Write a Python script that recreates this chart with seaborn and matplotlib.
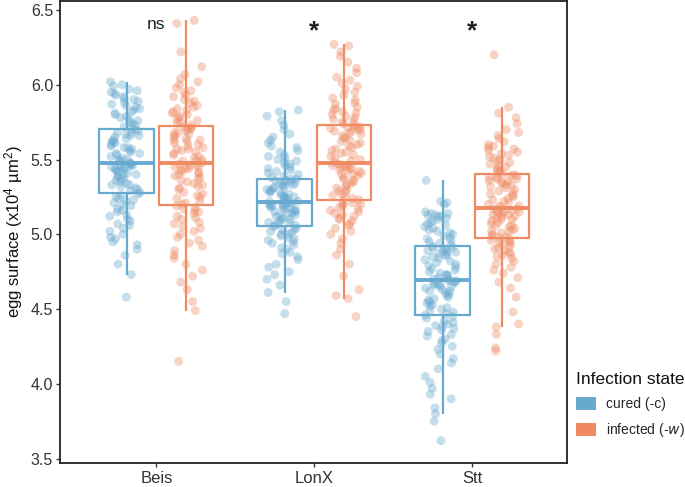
import numpy as np
import pandas as pd
import seaborn as sns
import matplotlib.pyplot as plt
from matplotlib.patches import Patch

# egg surface values (x10^4 um^2)
beis_cured = [4.58, 4.73, 4.80, 4.86, 4.90, 4.93, 4.95, 4.97, 4.98, 5.00, 5.02, 5.04, 5.06, 5.07, 5.09,
              5.10, 5.12, 5.13, 5.15, 5.16, 5.17, 5.19, 5.20, 5.21, 5.22, 5.23, 5.24, 5.25, 5.26, 5.27,
              5.28, 5.29, 5.30, 5.31, 5.32, 5.33, 5.33, 5.34, 5.35, 5.36, 5.37, 5.37, 5.38, 5.39, 5.40,
              5.40, 5.41, 5.42, 5.42, 5.43, 5.43, 5.44, 5.44, 5.45, 5.45, 5.46, 5.46, 5.46, 5.47, 5.47,
              5.48, 5.48, 5.49, 5.50, 5.50, 5.51, 5.52, 5.53, 5.54, 5.54, 5.55, 5.56, 5.57, 5.58, 5.58,
              5.59, 5.60, 5.61, 5.62, 5.62, 5.63, 5.64, 5.65, 5.66, 5.66, 5.67, 5.68, 5.68, 5.69, 5.70,
              5.71, 5.72, 5.73, 5.74, 5.75, 5.76, 5.77, 5.78, 5.79, 5.80, 5.81, 5.82, 5.83, 5.84, 5.85,
              5.86, 5.87, 5.88, 5.89, 5.90, 5.91, 5.92, 5.93, 5.94, 5.95, 5.96, 5.97, 5.99, 6.00, 6.02]
beis_infected = [4.15, 4.49, 4.55, 4.63, 4.68, 4.72, 4.76, 4.80, 4.84, 4.86, 4.89, 4.92, 4.94, 4.96, 4.98,
                 5.00, 5.02, 5.04, 5.05, 5.07, 5.08, 5.10, 5.11, 5.12, 5.14, 5.15, 5.16, 5.17, 5.18, 5.19,
                 5.20, 5.21, 5.22, 5.24, 5.25, 5.26, 5.27, 5.28, 5.30, 5.31, 5.32, 5.33, 5.34, 5.35, 5.36,
                 5.37, 5.38, 5.39, 5.40, 5.41, 5.41, 5.42, 5.43, 5.44, 5.44, 5.45, 5.45, 5.46, 5.46, 5.47,
                 5.48, 5.49, 5.49, 5.50, 5.51, 5.52, 5.53, 5.54, 5.55, 5.56, 5.57, 5.57, 5.58, 5.59, 5.60,
                 5.61, 5.62, 5.63, 5.63, 5.64, 5.65, 5.66, 5.67, 5.68, 5.68, 5.69, 5.70, 5.71, 5.71, 5.72,
                 5.73, 5.74, 5.75, 5.76, 5.77, 5.78, 5.79, 5.80, 5.81, 5.82, 5.83, 5.84, 5.85, 5.86, 5.88,
                 5.89, 5.90, 5.92, 5.93, 5.95, 5.96, 5.98, 6.00, 6.02, 6.04, 6.07, 6.12, 6.22, 6.41, 6.43]
lonx_cured = [4.47, 4.55, 4.61, 4.66, 4.70, 4.73, 4.75, 4.78, 4.80, 4.83, 4.85, 4.87, 4.88, 4.90, 4.91,
              4.93, 4.94, 4.95, 4.96, 4.97, 4.98, 4.99, 5.00, 5.00, 5.01, 5.02, 5.03, 5.03, 5.04, 5.05,
              5.06, 5.06, 5.07, 5.08, 5.08, 5.09, 5.10, 5.10, 5.11, 5.12, 5.12, 5.13, 5.14, 5.14, 5.15,
              5.15, 5.16, 5.16, 5.17, 5.17, 5.18, 5.18, 5.19, 5.19, 5.19, 5.20, 5.20, 5.20, 5.21, 5.21,
              5.22, 5.22, 5.23, 5.23, 5.24, 5.24, 5.25, 5.25, 5.26, 5.26, 5.27, 5.28, 5.28, 5.29, 5.29,
              5.30, 5.31, 5.31, 5.32, 5.32, 5.33, 5.33, 5.34, 5.34, 5.35, 5.35, 5.36, 5.36, 5.37, 5.37,
              5.38, 5.39, 5.40, 5.41, 5.42, 5.43, 5.44, 5.45, 5.46, 5.47, 5.48, 5.49, 5.50, 5.51, 5.52,
              5.53, 5.55, 5.56, 5.58, 5.59, 5.61, 5.63, 5.65, 5.67, 5.70, 5.73, 5.76, 5.79, 5.82, 5.83]
lonx_infected = [4.45, 4.57, 4.59, 4.63, 4.72, 4.80, 4.86, 4.90, 4.94, 4.97, 5.00, 5.02, 5.04, 5.06, 5.07,
                 5.09, 5.10, 5.11, 5.12, 5.13, 5.14, 5.15, 5.16, 5.17, 5.18, 5.19, 5.20, 5.20, 5.21, 5.22,
                 5.23, 5.24, 5.25, 5.26, 5.27, 5.28, 5.29, 5.30, 5.31, 5.32, 5.33, 5.34, 5.35, 5.36, 5.37,
                 5.38, 5.39, 5.40, 5.40, 5.41, 5.42, 5.43, 5.43, 5.44, 5.44, 5.45, 5.45, 5.46, 5.46, 5.47,
                 5.48, 5.49, 5.50, 5.51, 5.52, 5.53, 5.54, 5.55, 5.56, 5.57, 5.58, 5.59, 5.60, 5.61, 5.62,
                 5.63, 5.64, 5.65, 5.66, 5.67, 5.68, 5.69, 5.69, 5.70, 5.70, 5.71, 5.71, 5.72, 5.72, 5.73,
                 5.74, 5.75, 5.76, 5.77, 5.78, 5.79, 5.80, 5.81, 5.82, 5.83, 5.84, 5.85, 5.87, 5.88, 5.90,
                 5.91, 5.93, 5.95, 5.97, 5.99, 6.01, 6.03, 6.05, 6.08, 6.11, 6.15, 6.19, 6.22, 6.26, 6.27]
stt_cured = [3.62, 3.75, 3.80, 3.84, 3.90, 3.93, 3.97, 4.01, 4.05, 4.10, 4.14, 4.17, 4.20, 4.23, 4.25,
             4.27, 4.29, 4.30, 4.32, 4.33, 4.35, 4.36, 4.37, 4.38, 4.39, 4.40, 4.41, 4.42, 4.44, 4.45,
             4.46, 4.47, 4.48, 4.49, 4.50, 4.51, 4.52, 4.53, 4.54, 4.55, 4.56, 4.57, 4.58, 4.59, 4.60,
             4.61, 4.62, 4.62, 4.63, 4.64, 4.65, 4.65, 4.66, 4.66, 4.67, 4.67, 4.68, 4.68, 4.69, 4.69,
             4.70, 4.70, 4.71, 4.72, 4.73, 4.73, 4.74, 4.75, 4.76, 4.77, 4.78, 4.79, 4.80, 4.81, 4.82,
             4.83, 4.84, 4.85, 4.86, 4.86, 4.87, 4.88, 4.88, 4.89, 4.89, 4.90, 4.90, 4.91, 4.91, 4.92,
             4.93, 4.94, 4.95, 4.96, 4.97, 4.98, 4.99, 5.00, 5.01, 5.02, 5.03, 5.04, 5.05, 5.06, 5.07,
             5.08, 5.09, 5.10, 5.11, 5.12, 5.12, 5.13, 5.13, 5.14, 5.14, 5.15, 5.20, 5.21, 5.22, 5.36]
stt_infected = [4.22, 4.24, 4.33, 4.38, 4.40, 4.48, 4.58, 4.64, 4.68, 4.71, 4.74, 4.76, 4.78, 4.80, 4.82,
                4.84, 4.85, 4.86, 4.87, 4.88, 4.89, 4.90, 4.91, 4.92, 4.93, 4.94, 4.95, 4.95, 4.96, 4.97,
                4.98, 4.98, 4.99, 5.00, 5.01, 5.02, 5.02, 5.03, 5.04, 5.05, 5.06, 5.06, 5.07, 5.08, 5.09,
                5.10, 5.10, 5.11, 5.12, 5.12, 5.13, 5.13, 5.14, 5.14, 5.15, 5.15, 5.16, 5.16, 5.17, 5.17,
                5.18, 5.19, 5.19, 5.20, 5.21, 5.22, 5.23, 5.24, 5.25, 5.26, 5.27, 5.28, 5.29, 5.30, 5.31,
                5.32, 5.33, 5.33, 5.34, 5.35, 5.35, 5.36, 5.37, 5.37, 5.38, 5.38, 5.39, 5.39, 5.40, 5.40,
                5.41, 5.42, 5.43, 5.44, 5.45, 5.46, 5.47, 5.48, 5.49, 5.50, 5.51, 5.52, 5.53, 5.54, 5.55,
                5.56, 5.57, 5.58, 5.59, 5.60, 5.62, 5.64, 5.66, 5.68, 5.70, 5.74, 5.78, 5.81, 5.85, 6.20]

lines = ["Beis", "LonX", "Stt"]
states = ["cured (-c)", "infected (-w)"]
signif = ["ns", "*", "*"]
colors = ["#67a9cf", "#ef8a62"]

# long table
groups = {("Beis", states[0]): beis_cured, ("Beis", states[1]): beis_infected,
          ("LonX", states[0]): lonx_cured, ("LonX", states[1]): lonx_infected,
          ("Stt", states[0]): stt_cured, ("Stt", states[1]): stt_infected}
rows = []
for (line, state), vals in groups.items():
    for v in vals:
        rows.append((line, state, v))
df = pd.DataFrame(rows, columns=["line", "state", "surface"])

sns.set_style("white")
plt.rcParams["font.family"] = ["Liberation Sans", "DejaVu Sans"]
plt.rcParams["mathtext.default"] = "regular"

fig = plt.figure(figsize=(6.85, 4.87), dpi=100)
ax = fig.add_axes([0.0876, 0.049, 0.740, 0.949])

np.random.seed(3)
sns.boxplot(data=df, x="line", y="surface", hue="state", order=lines, hue_order=states,
            palette=colors, fill=False, width=0.75, gap=0.08, showfliers=False, showcaps=False,
            linewidth=1.6, medianprops={"linewidth": 2.8}, legend=False, ax=ax)
sns.stripplot(data=df, x="line", y="surface", hue="state", order=lines, hue_order=states,
              palette=colors, dodge=True, jitter=0.2, size=6.4, alpha=0.38, linewidth=0,
              legend=False, ax=ax)

# significance labels
for i, s in enumerate(signif):
    if s == "ns":
        ax.text(i, 6.40, s, ha="center", va="center", fontsize=12.5, color="#222222")
    else:
        ax.text(i, 6.36, s, ha="center", va="center", fontsize=19, fontweight="bold", color="#222222")

ax.set_xlim(-0.61, 2.60)
ax.set_ylim(3.47, 6.56)
ax.set_yticks([3.5, 4.0, 4.5, 5.0, 5.5, 6.0, 6.5])
ax.set_yticklabels(["3.5", "4.0", "4.5", "5.0", "5.5", "6.0", "6.5"])
ax.set_xlabel("")
ax.set_ylabel("egg surface (x10$^{4}$ µm$^{2}$)", fontsize=12, color="#111111", labelpad=4)
ax.tick_params(axis="y", labelsize=11.5, length=3, width=1, pad=2, direction="out", left=True,
               colors="#333333")
ax.tick_params(axis="x", labelsize=12, length=3, width=1, pad=3, direction="out", bottom=True,
               colors="#333333")
for sp in ax.spines.values():
    sp.set_visible(True)
    sp.set_color("#222222")
    sp.set_linewidth(1.3)

handles = [Patch(facecolor=c, edgecolor="none") for c in colors]
labels = ["cured (-c)", "infected (-$\\it{w}$)"]
leg = ax.legend(handles, labels, title="Infection state", loc="upper left",
                bbox_to_anchor=(1.017, 0.198), frameon=False, fontsize=10, title_fontsize=12.5,
                borderpad=0, borderaxespad=0, handlelength=1.45, handleheight=1.0,
                handletextpad=0.72, labelspacing=0.75)
leg._legend_box.align = "left"
leg.get_title().set_color("#111111")

fig.savefig("out.png", dpi=100)
